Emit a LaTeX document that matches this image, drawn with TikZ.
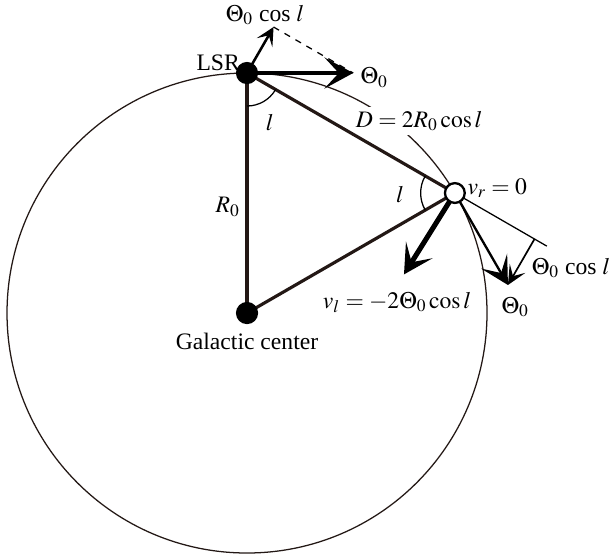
\documentclass[tikz,border=0pt]{standalone}
\usepackage{mathptmx}
\usepackage{fontspec}
\setmainfont{Liberation Serif}
\usepackage{tikz}
\usetikzlibrary{arrows.meta,positioning,calc}
\definecolor{LineDark}{HTML}{231815}

\begin{document}
\begin{tikzpicture}[
    font=\fontsize{11.2}{13.5}\selectfont,
    orbit/.style={draw=LineDark, line width=0.6pt},
    side/.style={draw=LineDark, line width=1.5pt},
    dot/.style={circle, fill=black, inner sep=0pt, minimum size=0.37cm},
    opendot/.style={circle, draw=black, fill=white, line width=1.1pt, inner sep=0pt, minimum size=0.33cm},
    bigarr/.style={-{Stealth[length=4.8mm, width=5.2mm, inset=2.4mm]}, line width=1.5pt},
    midarr/.style={-{Stealth[length=4.6mm, width=5mm, inset=2.3mm]}, line width=1.1pt},
    smallarr/.style={-{Stealth[length=3mm, width=3mm, inset=1.4mm]}, line width=1.2pt},
    thinline/.style={line width=0.6pt},
    anglearc/.style={line width=0.6pt}
]
\useasboundingbox (-4.117,-4.05) rectangle (6.05,5.217);
\coordinate (gcpos) at (0,0);
\coordinate (lsrpos) at (90:4);
\coordinate (ppos) at (30:4);
\draw[orbit] (gcpos) circle (4);
\node[fill=white, inner sep=2pt] (dlabel) at (2.87,3.2) {$D = 2R_0\cos l$};
% triangle
\draw[side] (lsrpos) -- (gcpos);
\draw[side] (lsrpos) -- (ppos);
\draw[side] (gcpos) -- (ppos);
\draw[anglearc] ($(lsrpos)+(270:0.55)$) arc (270:330:0.55);
\draw[anglearc] ($(ppos)+(150:0.57)$) arc (150:210:0.57);
% velocities at the LSR
\coordinate (lsrtheta) at ($(lsrpos)+(1.77,0)$);
\coordinate (lsrcos) at ($(lsrpos)+(60:0.885)$);
\draw[thinline, dashed] (lsrcos) -- (lsrtheta);
\draw[bigarr] (lsrpos) -- (lsrtheta);
\draw[smallarr] (lsrpos) -- (lsrcos);
% velocities at the tangent point
\coordinate (vlend) at ($(ppos)+(238:1.6)$);
\coordinate (ptheta) at ($(ppos)+(-60:1.77)$);
\coordinate (losend) at ($(ppos)+(-30:1.77)$);
\coordinate (losfoot) at ($(ppos)+(-30:1.533)$);
\draw[thinline] (ppos) -- (losend);
\draw[-{Stealth[length=4.8mm, width=5.2mm, inset=2.4mm]}, line width=2.4pt] (ppos) -- (vlend);
\draw[midarr] (ppos) -- (ptheta);
\draw[-{Stealth[length=3.2mm, width=3mm, inset=1.5mm]}, line width=0.8pt] (losfoot) -- (ptheta);
\node[dot] (lsr) at (lsrpos) {};
\node[dot] (gc) at (gcpos) {};
\node[opendot] (tp) at (ppos) {};
% labels
\node (lsrname) at (-0.48,4.17) {LSR};
\node (gcname) at (0,-0.48) {Galactic center};
\node (rlabel) at (-0.32,1.77) {$R_0$};
\node (lone) at (0.38,3.17) {$l$};
\node (ltwo) at (2.55,1.97) {$l$};
\node (toplabel) at (0.3,4.97) {$\Theta_0$ cos $l$};
\node (thetalsr) at (2.12,3.92) {$\Theta_0$};
\node (vrlabel) at (4.17,2.08) {$v_r = 0$};
\node (vllabel) at (2.5,0.18) {$v_l = -2\Theta_0\cos l$};
\node (coslabel) at (5.4,0.75) {$\Theta_0$ cos $l$};
\node (thetap) at (4.47,0.1) {$\Theta_0$};
\end{tikzpicture}
\end{document}
